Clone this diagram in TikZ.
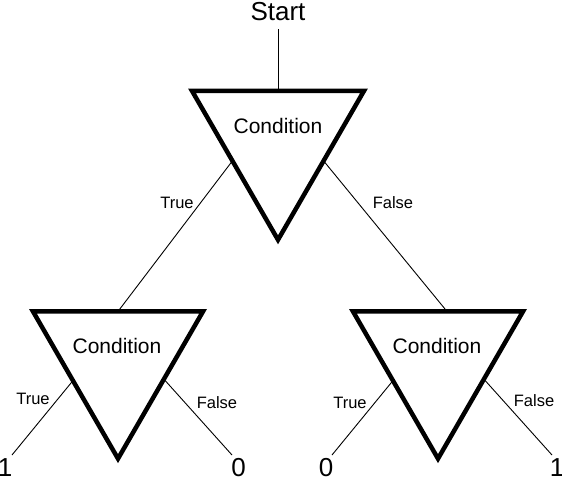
\documentclass[tikz,border=0pt]{standalone}
\usepackage{fontspec}
\setmainfont{Liberation Sans}
\usetikzlibrary{shapes.geometric,calc}
\begin{document}
\begin{tikzpicture}[x=1pt,y=-1pt,
  cond/.style={draw, line width=4.5pt, regular polygon, regular polygon sides=3,
    shape border rotate=180, inner sep=0pt, outer sep=0pt},
  link/.style={line width=0.9pt},
  lbl/.style={font=\fontsize{16.5}{19}\selectfont, inner sep=0pt},
  ctext/.style={font=\fontsize{21}{25}\selectfont, inner sep=0pt},
  leaf/.style={font=\fontsize{26}{30}\selectfont, inner sep=0pt},
  title/.style={font=\fontsize{26}{30}\selectfont, inner sep=0pt}]
\useasboundingbox (0,0) rectangle (562,477);

\node[title] (start) at (278,12) {Start};

\node[cond, minimum size=198.6pt] (t1) at (278,140.5) {};
\node[cond, minimum size=196.3pt] (t2) at (118,360.5) {};
\node[cond, minimum size=196.3pt] (t3) at (438,360.5) {};

\node[ctext] (c1) at (278,126) {Condition};
\node[ctext] (c2) at (117,346) {Condition};
\node[ctext] (c3) at (437,346) {Condition};

\coordinate (l1) at (12,455);
\coordinate (l2) at (232,455);
\coordinate (l3) at (332,455);
\coordinate (l4) at (552,455);

\draw[link] ([yshift=-8pt]start.south) -- (t1.north);
\draw[link] ($(t1.corner 3)!0.47!(t1.corner 1)$) -- (t2.north);
\draw[link] ($(t1.corner 2)!0.47!(t1.corner 1)$) -- ($(t3.north)+(9,0)$);
\draw[link] ($(t2.corner 3)!0.47!(t2.corner 1)$) -- (l1);
\draw[link] ($(t2.corner 2)!0.46!(t2.corner 1)$) -- (l2);
\draw[link] ($(t3.corner 3)!0.47!(t3.corner 1)$) -- (l3);
\draw[link] ($(t3.corner 2)!0.46!(t3.corner 1)$) -- (l4);

\node[lbl] (tt1) at (177,203) {True};
\node[lbl] (ff1) at (393,203) {False};
\node[lbl] (tt2) at (33,399) {True};
\node[lbl] (ff2) at (217,403) {False};
\node[lbl] (tt3) at (350,403) {True};
\node[lbl] (ff3) at (534,401) {False};

\node[leaf] (v1) at (5,468) {1};
\node[leaf] (v2) at (238.5,468) {0};
\node[leaf] (v3) at (326,468) {0};
\node[leaf] (v4) at (557,468) {1};
\end{tikzpicture}
\end{document}
